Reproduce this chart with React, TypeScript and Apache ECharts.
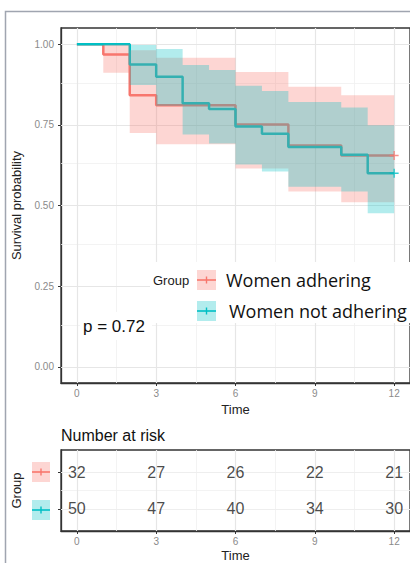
import React, { useEffect, useRef } from "react";
import * as echarts from "echarts";

// ---------- data ----------
const groupNames = ["Women adhering", "Women not adhering"];
const groupColors = ["#F8766D", "#00BFC4"];
const bandColors = ["rgba(248,118,109,0.3)", "rgba(0,191,196,0.3)"];

const adhTime = [0, 1, 2, 3, 6, 8, 10, 12];
const adhSurv = [1, 0.968, 0.842, 0.811, 0.751, 0.686, 0.655, 0.655];
const adhBandStart = [1, 2, 3, 6, 8, 10];
const adhBandEnd = [2, 3, 6, 8, 10, 12];
const adhLower = [0.911, 0.725, 0.69, 0.615, 0.543, 0.51];
const adhUpper = [0.998, 0.981, 0.958, 0.914, 0.868, 0.842];

const nonTime = [0, 2, 3, 4, 5, 6, 7, 8, 10, 11, 12];
const nonSurv = [1, 0.937, 0.899, 0.817, 0.799, 0.745, 0.722, 0.681, 0.657, 0.6, 0.6];
const nonBandStart = [2, 3, 4, 5, 6, 7, 8, 10, 11];
const nonBandEnd = [3, 4, 5, 6, 7, 8, 10, 11, 12];
const nonLower = [0.873, 0.809, 0.72, 0.692, 0.627, 0.605, 0.558, 0.543, 0.476];
const nonUpper = [0.997, 0.985, 0.935, 0.92, 0.871, 0.855, 0.821, 0.804, 0.749];

const riskTimes = [0, 3, 6, 9, 12];
const riskAdh = [32, 27, 26, 22, 21];
const riskNon = [50, 47, 40, 34, 30];

const xTicks = [0, 3, 6, 9, 12];
const yTicks = [0, 0.25, 0.5, 0.75, 1];
const pValueText = "p = 0.72";

// ---------- helpers ----------
const ARIAL = "'Liberation Sans', Arial, sans-serif";
const mids = (a: number[]) => a.slice(0, -1).map((v, i) => (v + a[i + 1]) / 2);

const bandItems = (s: number[], e: number[], lo: number[], hi: number[]) =>
  s.map((v, i) => [v, e[i], lo[i], hi[i]]);

const bandSeries = (items: number[][], color: string, xi: number, yi: number) => ({
  type: "custom",
  xAxisIndex: xi,
  yAxisIndex: yi,
  z: 3,
  silent: true,
  data: items,
  encode: { x: [0, 1], y: [2, 3] },
  renderItem: (params: any, api: any) => {
    if (params.dataIndex !== 0) return null;
    const top: number[][] = [];
    const bot: number[][] = [];
    items.forEach((it) => {
      top.push(api.coord([it[0], it[3]]));
      top.push(api.coord([it[1], it[3]]));
      bot.push(api.coord([it[0], it[2]]));
      bot.push(api.coord([it[1], it[2]]));
    });
    const pts = top.concat(bot.reverse());
    return { type: "polygon", shape: { points: pts }, style: { fill: color } };
  },
});

const gridLinesSeries = (
  xi: number, yi: number, xMaj: number[], xMin: number[], yMaj: number[], yMin: number[], majColor = "#e6e6e6"
) => ({
  type: "line",
  xAxisIndex: xi,
  yAxisIndex: yi,
  data: [],
  z: 1,
  silent: true,
  markLine: {
    z: 1,
    silent: true,
    symbol: ["none", "none"],
    label: { show: false },
    animation: false,
    data: [
      ...xMin.map((v) => ({ xAxis: v, lineStyle: { color: "#f0f0f0", width: 0.8, type: "solid" } })),
      ...yMin.map((v) => ({ yAxis: v, lineStyle: { color: "#f0f0f0", width: 0.8, type: "solid" } })),
      ...xMaj.map((v) => ({ xAxis: v, lineStyle: { color: "#e6e6e6", width: 1.2, type: "solid" } })),
      ...yMaj.map((v) => ({ yAxis: v, lineStyle: { color: majColor, width: 1.1, type: "solid" } })),
    ],
  },
});

const plusSymbol = "path://M0,3.4h8v1.2h-8z M3.4,0h1.2v8h-1.2z";

export default function App() {
  const ref = useRef<HTMLDivElement>(null);

  useEffect(() => {
    if (!ref.current) return;
    const chart = echarts.init(ref.current, undefined, { renderer: "svg" });

    const legendKey = (y: number, color: string, band: string, x = 197, w = 19, h = 20) => [
      { type: "rect", z: 101, shape: { x, y, width: w, height: h }, style: { fill: band } },
      { type: "line", z: 102, shape: { x1: x, y1: y + h / 2, x2: x + w, y2: y + h / 2 }, style: { stroke: color, lineWidth: 1.6 } },
      { type: "line", z: 102, shape: { x1: x + w / 2, y1: y + h / 2 - 3.5, x2: x + w / 2, y2: y + h / 2 + 3.5 }, style: { stroke: color, lineWidth: 1.4 } },
    ];

    const txt = (text: string, x: number, y: number, font: string, fill: string, align = "left") => ({
      type: "text",
      z: 103,
      style: { text, x, y, font, fill, align, verticalAlign: "middle", textAlign: align, textVerticalAlign: "middle" },
    });

    const option: any = {
      animation: false,
      backgroundColor: "#ffffff",
      grid: [
        { left: 61, top: 28, width: 350, height: 355, show: true, backgroundColor: "#fff", borderColor: "#333", borderWidth: 1.3 },
        { left: 61, top: 450, width: 350, height: 83, show: true, backgroundColor: "#fff", borderColor: "#333", borderWidth: 1.3 },
      ],
      xAxis: [
        {
          gridIndex: 0, type: "value", min: -0.6, max: 12.6,
          axisLine: { show: true, onZero: false, lineStyle: { color: "#333", width: 1.3 } },
          axisTick: { show: true, customValues: xTicks, length: 3, lineStyle: { color: "#333" } },
          axisLabel: { customValues: xTicks, color: "#8a8a8a", fontSize: 10, margin: 5, fontFamily: ARIAL },
          splitLine: { show: false },
          name: "Time", nameLocation: "middle", nameGap: 19,
          nameTextStyle: { fontSize: 13, color: "#222", fontFamily: ARIAL },
        },
        {
          gridIndex: 1, type: "value", min: -0.6, max: 12.6,
          axisLine: { show: true, onZero: false, lineStyle: { color: "#333", width: 1.3 } },
          axisTick: { show: true, customValues: xTicks, length: 3, lineStyle: { color: "#333" } },
          axisLabel: { customValues: xTicks, color: "#8a8a8a", fontSize: 10, margin: 5, fontFamily: ARIAL },
          splitLine: { show: false },
          name: "Time", nameLocation: "middle", nameGap: 18,
          nameTextStyle: { fontSize: 13, color: "#222", fontFamily: ARIAL },
        },
      ],
      yAxis: [
        {
          gridIndex: 0, type: "value", min: -0.05, max: 1.05,
          axisLine: { show: true, onZero: false, lineStyle: { color: "#333", width: 1.3 } },
          axisTick: { show: true, customValues: yTicks, length: 3, lineStyle: { color: "#333" } },
          axisLabel: { customValues: yTicks, color: "#8a8a8a", fontSize: 10, margin: 7, fontFamily: ARIAL, formatter: (v: number) => v.toFixed(2) },
          splitLine: { show: false },
          name: "Survival probability", nameLocation: "middle", nameGap: 38, nameRotate: 90,
          nameTextStyle: { fontSize: 13, color: "#222", fontFamily: ARIAL },
        },
        {
          gridIndex: 1, type: "value", min: 0.4, max: 2.6, inverse: true,
          axisLine: { show: true, onZero: false, lineStyle: { color: "#333", width: 1.3 } },
          axisTick: { show: true, customValues: [1, 2], length: 3, lineStyle: { color: "#333" } },
          axisLabel: { show: false },
          splitLine: { show: false },
          name: "Group", nameLocation: "middle", nameGap: 38, nameRotate: 90,
          nameTextStyle: { fontSize: 13, color: "#222", fontFamily: ARIAL },
        },
      ],
      series: [
        gridLinesSeries(0, 0, xTicks, mids(xTicks), yTicks, mids(yTicks)),
        {
          type: "line", name: groupNames[0], xAxisIndex: 0, yAxisIndex: 0, step: "end", z: 2,
          symbol: "none", data: adhTime.map((t, i) => [t, adhSurv[i]]),
          lineStyle: { color: groupColors[0], width: 2.5 },
        },
        {
          type: "line", name: groupNames[1], xAxisIndex: 0, yAxisIndex: 0, step: "end", z: 2,
          symbol: "none", data: nonTime.map((t, i) => [t, nonSurv[i]]),
          lineStyle: { color: groupColors[1], width: 2.5 },
        },
        bandSeries(bandItems(adhBandStart, adhBandEnd, adhLower, adhUpper), bandColors[0], 0, 0),
        bandSeries(bandItems(nonBandStart, nonBandEnd, nonLower, nonUpper), bandColors[1], 0, 0),
        {
          type: "scatter", xAxisIndex: 0, yAxisIndex: 0, z: 4, symbol: plusSymbol, symbolSize: 9,
          data: [
            { value: [adhTime[adhTime.length - 1], adhSurv[adhSurv.length - 1]], itemStyle: { color: groupColors[0] } },
            { value: [nonTime[nonTime.length - 1], nonSurv[nonSurv.length - 1]], itemStyle: { color: groupColors[1] } },
          ],
        },
        gridLinesSeries(1, 1, xTicks, mids(xTicks), [1, 2], [1.5], "#eeeeee"),
        {
          type: "scatter", xAxisIndex: 1, yAxisIndex: 1, z: 6, symbolSize: 1,
          itemStyle: { color: "rgba(0,0,0,0)" },
          data: [
            ...riskTimes.map((t, i) => [t, 1, riskAdh[i]]),
            ...riskTimes.map((t, i) => [t, 2, riskNon[i]]),
          ],
          label: {
            show: true, position: "inside", color: "#1a1a1a", fontSize: 16, fontFamily: ARIAL,
            formatter: (p: any) => String(p.value[2]),
          },
        },
      ],
      graphic: [
        { type: "rect", z: -1, shape: { x: 5.5, y: 11.5, width: 430, height: 600 }, style: { fill: "none", stroke: "#a0a5b0", lineWidth: 1.5 } },
        // legend
        { type: "rect", z: 100, shape: { x: 150, y: 262, width: 262, height: 61 }, style: { fill: "#ffffff" } },
        txt("Group", 153, 280, `13px ${ARIAL}`, "#1a1a1a"),
        ...legendKey(270, groupColors[0], bandColors[0]),
        ...legendKey(301, groupColors[1], bandColors[1]),
        txt(groupNames[0], 226, 280, "18px 'Open Sans', sans-serif", "#111"),
        txt(groupNames[1], 229, 311, "18px 'Open Sans', sans-serif", "#111"),
        // p value
        { type: "rect", z: 100, shape: { x: 80, y: 312, width: 72, height: 28 }, style: { fill: "#ffffff" } },
        txt(pValueText, 83, 326, `17px ${ARIAL}`, "#111"),
        // risk table
        txt("Number at risk", 61, 435, `16px ${ARIAL}`, "#111"),
        ...legendKey(462, groupColors[0], bandColors[0], 32, 18, 20),
        ...legendKey(500, groupColors[1], bandColors[1], 32, 18, 20),
      ],
    };

    chart.setOption(option);
    return () => chart.dispose();
  }, []);

  return (
    <div
      ref={ref}
      style={{ position: "absolute", left: 0, top: 0, width: 410, height: 563, background: "#fff" }}
    />
  );
}
